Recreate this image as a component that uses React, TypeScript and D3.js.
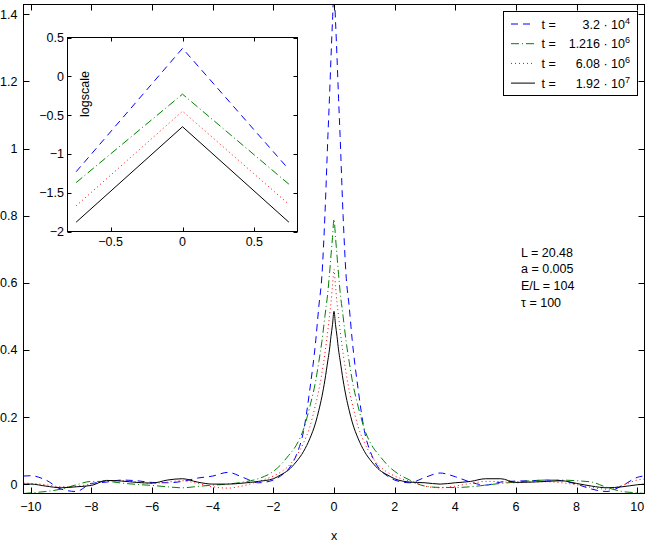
import { useEffect, useRef } from 'react';
import * as d3 from 'd3';

// sample positions along x (dense near the peak)
const xs = [
  -10.24, -10, -9.5, -9, -8.5, -8, -7.5, -7, -6.5, -6, -5.5, -5, -4.5, -4, -3.5, -3, -2.5,
  -2, -1.75, -1.5, -1.25, -1, -0.8, -0.6, -0.5, -0.4, -0.3, -0.2, -0.15, -0.1, -0.05,
  0,
  0.05, 0.1, 0.15, 0.2, 0.3, 0.4, 0.5, 0.6, 0.8, 1, 1.25, 1.5, 1.75, 2,
  2.5, 3, 3.5, 4, 4.5, 5, 5.5, 6, 6.5, 7, 7.5, 8, 8.5, 9, 9.5, 10, 10.24,
];

const blueVals = [
  0.024, 0.025, 0.012, -0.015, -0.022, 0.002, 0.006, 0.012, 0.01, 0.005, 0.004, 0.008, 0.018, 0.024, 0.035, 0.02, 0.004,
  0.012, 0.025, 0.045, 0.085, 0.16, 0.28, 0.43, 0.53, 0.62, 0.8, 1.04, 1.15, 1.27, 1.38,
  1.47,
  1.38, 1.27, 1.15, 1.04, 0.8, 0.62, 0.53, 0.43, 0.28, 0.16, 0.085, 0.045, 0.025, 0.012,
  0.004, 0.02, 0.033, 0.022, 0.006, -0.003, 0.006, 0.009, 0.01, 0.012, 0.01, 0.0, -0.015, -0.022, -0.005, 0.02, 0.025,
];

const greenVals = [
  -0.028, -0.026, -0.022, -0.015, -0.002, 0.008, 0.008, 0.003, -0.001, -0.004, -0.008, -0.011, -0.007, -0.003, 0.0, 0.006, 0.016,
  0.038, 0.058, 0.085, 0.115, 0.165, 0.23, 0.31, 0.365, 0.425, 0.5, 0.575, 0.625, 0.68, 0.735,
  0.79,
  0.735, 0.68, 0.625, 0.575, 0.5, 0.425, 0.365, 0.31, 0.23, 0.165, 0.115, 0.085, 0.058, 0.038,
  0.012, -0.006, -0.01, -0.01, -0.008, -0.003, 0.002, 0.006, 0.01, 0.012, 0.012, 0.01, 0.006, -0.01, -0.022, -0.026, -0.028,
];

const redVals = [
  0.003, 0.002, -0.002, -0.008, -0.006, 0.0, 0.01, 0.01, 0.006, 0.002, 0.006, 0.01, 0.002, -0.008, -0.012, -0.005, 0.008,
  0.024, 0.036, 0.054, 0.082, 0.124, 0.17, 0.24, 0.28, 0.33, 0.39, 0.46, 0.5, 0.54, 0.59,
  0.64,
  0.59, 0.54, 0.5, 0.46, 0.39, 0.33, 0.28, 0.24, 0.17, 0.124, 0.082, 0.054, 0.036, 0.024,
  0.008, -0.006, -0.011, -0.006, 0.002, 0.008, 0.007, 0.004, 0.006, 0.007, 0.004, -0.002, -0.01, -0.015, -0.004, 0.012, 0.015,
];

const blackVals = [
  0.0, 0.0, -0.006, -0.011, -0.008, -0.004, 0.011, 0.009, 0.005, 0.003, 0.012, 0.016, 0.006, 0.0, 0.0, 0.003, 0.008,
  0.016, 0.028, 0.042, 0.066, 0.098, 0.135, 0.185, 0.22, 0.26, 0.31, 0.37, 0.4, 0.44, 0.475,
  0.515,
  0.475, 0.44, 0.4, 0.37, 0.31, 0.26, 0.22, 0.185, 0.135, 0.098, 0.066, 0.042, 0.028, 0.016,
  0.006, 0.004, 0.0, 0.004, 0.008, 0.016, 0.016, 0.005, 0.006, 0.008, 0.01, 0.002, -0.006, -0.011, -0.008, -0.002, 0.0,
];

// inset: log of the peak region
const insetX = [-0.74, 0, 0.74];
const insetBlue = [-1.23, 0.36, -1.2];
const insetGreen = [-1.37, -0.23, -1.39];
const insetRed = [-1.67, -0.45, -1.65];
const insetBlack = [-1.88, -0.65, -1.88];

const legendTimes = ['3.2', '1.216', '6.08', '1.92'];
const legendExps = ['4', '6', '6', '7'];
const paramLines = ['L = 20.48', 'a = 0.005', 'E/L = 104', 'τ = 100'];

const xTicks = [-10, -8, -6, -4, -2, 0, 2, 4, 6, 8, 10];
const yTicks = [0, 0.2, 0.4, 0.6, 0.8, 1, 1.2, 1.4];
const insetXTicks = [-0.5, 0, 0.5];
const insetYTicks = [0.5, 0, -0.5, -1, -1.5, -2];

const FONT = '"Liberation Sans", Arial, Helvetica, sans-serif';
const FS = 12.5;

const seriesStyles = [
  { color: '#0000ff', dash: '7,5' },
  { color: '#008000', dash: '8,3,1,3' },
  { color: '#ff0000', dash: '1,3' },
  { color: '#000000', dash: null as string | null },
];

const fmt = (v: number) => String(v).replace('-', '\u2212');

export default function App() {
  const ref = useRef<SVGSVGElement>(null);

  useEffect(() => {
    if (!ref.current) return;
    const svg = d3.select(ref.current);
    svg.selectAll('*').remove();

    const m = { left: 23.5, top: 4.5, right: 644.5, bottom: 493.5 };
    const x = d3.scaleLinear().domain([-10.24, 10.24]).range([m.left, m.right]);
    const y = d3.scaleLinear().domain([-0.028, 1.4295]).range([m.bottom, m.top]);

    svg.append('defs').append('clipPath').attr('id', 'mainClip')
      .append('rect').attr('x', m.left).attr('y', m.top)
      .attr('width', m.right - m.left).attr('height', m.bottom - m.top);

    const main = [blueVals, greenVals, redVals, blackVals];
    const line = d3.line<number>()
      .x((_, i) => x(xs[i]))
      .y((d) => y(d))
      .curve(d3.curveMonotoneX);

    const curves = svg.append('g').attr('clip-path', 'url(#mainClip)');
    main.forEach((vals, k) => {
      const p = curves.append('path').datum(vals)
        .attr('fill', 'none')
        .attr('stroke', seriesStyles[k].color)
        .attr('stroke-width', 1)
        .attr('d', line);
      if (seriesStyles[k].dash) p.attr('stroke-dasharray', seriesStyles[k].dash);
    });

    // main frame + ticks (inside, mirrored)
    svg.append('rect').attr('x', m.left).attr('y', m.top)
      .attr('width', m.right - m.left).attr('height', m.bottom - m.top)
      .attr('fill', 'none').attr('stroke', '#000').attr('stroke-width', 1);

    const tl = 6;
    xTicks.forEach((t) => {
      const px = Math.round(x(t)) + 0.5;
      svg.append('line').attr('x1', px).attr('x2', px).attr('y1', m.bottom).attr('y2', m.bottom - tl).attr('stroke', '#000');
      svg.append('line').attr('x1', px).attr('x2', px).attr('y1', m.top).attr('y2', m.top + tl).attr('stroke', '#000');
      svg.append('text').attr('x', x(t)).attr('y', 511).attr('text-anchor', 'middle')
        .attr('font-family', FONT).attr('font-size', FS).text(fmt(t));
    });
    yTicks.forEach((t) => {
      const py = Math.round(y(t)) + 0.5;
      svg.append('line').attr('x1', m.left).attr('x2', m.left + tl).attr('y1', py).attr('y2', py).attr('stroke', '#000');
      svg.append('line').attr('x1', m.right).attr('x2', m.right - tl).attr('y1', py).attr('y2', py).attr('stroke', '#000');
      svg.append('text').attr('x', 17.5).attr('y', y(t) + 4.5).attr('text-anchor', 'end')
        .attr('font-family', FONT).attr('font-size', FS).text(fmt(t));
    });
    svg.append('text').attr('x', x(0)).attr('y', 540).attr('text-anchor', 'middle')
      .attr('font-family', FONT).attr('font-size', FS).text('x');

    // parameter annotation
    paramLines.forEach((s, i) => {
      svg.append('text').attr('x', 521).attr('y', 256.5 + i * 16.7)
        .attr('font-family', FONT).attr('font-size', FS).text(s);
    });

    // inset
    const im = { left: 67.5, top: 37.5, right: 297.5, bottom: 231.5 };
    const ix = d3.scaleLinear().domain([-0.8, 0.8]).range([im.left, im.right]);
    const iy = d3.scaleLinear().domain([-2, 0.5]).range([im.bottom, im.top]);
    svg.append('rect').attr('x', im.left).attr('y', im.top)
      .attr('width', im.right - im.left).attr('height', im.bottom - im.top)
      .attr('fill', '#fff').attr('stroke', '#000');
    const iline = d3.line<number>().x((_, i) => ix(insetX[i])).y((d) => iy(d));
    [insetBlue, insetGreen, insetRed, insetBlack].forEach((vals, k) => {
      const p = svg.append('path').datum(vals)
        .attr('fill', 'none')
        .attr('stroke', seriesStyles[k].color)
        .attr('stroke-width', 1)
        .attr('d', iline);
      if (seriesStyles[k].dash) p.attr('stroke-dasharray', seriesStyles[k].dash);
    });
    const itl = 4;
    insetXTicks.forEach((t) => {
      const px = Math.round(ix(t)) + 0.5;
      svg.append('line').attr('x1', px).attr('x2', px).attr('y1', im.bottom).attr('y2', im.bottom - itl).attr('stroke', '#000');
      svg.append('line').attr('x1', px).attr('x2', px).attr('y1', im.top).attr('y2', im.top + itl).attr('stroke', '#000');
      svg.append('text').attr('x', ix(t)).attr('y', 246).attr('text-anchor', 'middle')
        .attr('font-family', FONT).attr('font-size', FS).text(fmt(t));
    });
    insetYTicks.forEach((t) => {
      const py = Math.round(iy(t)) + 0.5;
      svg.append('line').attr('x1', im.left).attr('x2', im.left + itl).attr('y1', py).attr('y2', py).attr('stroke', '#000');
      svg.append('line').attr('x1', im.right).attr('x2', im.right - itl).attr('y1', py).attr('y2', py).attr('stroke', '#000');
      svg.append('text').attr('x', 64).attr('y', iy(t) + 4.5).attr('text-anchor', 'end')
        .attr('font-family', FONT).attr('font-size', FS).text(fmt(t));
    });
    svg.append('text').attr('transform', 'translate(89,94) rotate(-90)')
      .attr('text-anchor', 'middle').attr('font-family', FONT).attr('font-size', FS).text('logscale');

    // legend
    const lg = svg.append('g');
    lg.append('rect').attr('x', 503.5).attr('y', 11.5).attr('width', 134).attr('height', 84)
      .attr('fill', '#fff').attr('stroke', '#000');
    legendTimes.forEach((tv, i) => {
      const cy = 24 + i * 19.7;
      const l = lg.append('line').attr('x1', 511).attr('x2', 535).attr('y1', cy).attr('y2', cy)
        .attr('stroke', seriesStyles[i].color).attr('stroke-width', 1);
      if (seriesStyles[i].dash) l.attr('stroke-dasharray', seriesStyles[i].dash);
      lg.append('text').attr('x', 541.5).attr('y', cy + 4.5)
        .attr('font-family', FONT).attr('font-size', FS).text('t =');
      const t = lg.append('text').attr('x', 630).attr('y', cy + 4.5).attr('text-anchor', 'end')
        .attr('font-family', FONT).attr('font-size', FS);
      t.append('tspan').text(`${tv} \u00b7 10`);
      t.append('tspan').attr('dy', -5).attr('font-size', 9).text(legendExps[i]);
    });
  }, []);

  return (
    <svg ref={ref} width={649} height={545}
      style={{ position: 'absolute', left: 0, top: 0, background: '#fff' }} />
  );
}
